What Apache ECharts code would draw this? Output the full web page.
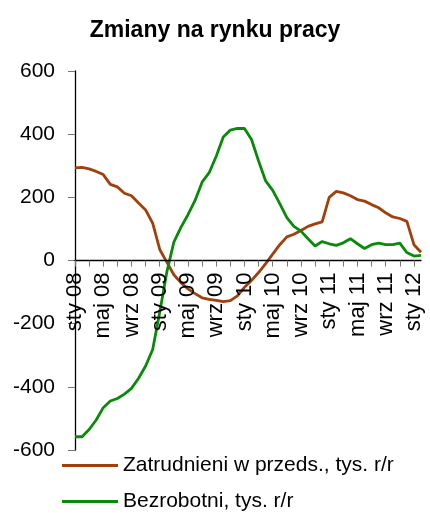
<!DOCTYPE html>
<html>
<head>
<meta charset="utf-8">
<script src="https://cdn.jsdelivr.net/npm/echarts@6/dist/echarts.min.js"></script>
<style>
html,body{margin:0;padding:0;background:#fff;}
#chart{width:430px;height:513px;}
</style>
</head>
<body>
<div id="chart"></div>
<script>
var titleText = 'Zmiany na rynku pracy';
var categories = [
  'sty 08','lut 08','mar 08','kwi 08','maj 08','cze 08','lip 08','sie 08','wrz 08','paź 08','lis 08','gru 08',
  'sty 09','lut 09','mar 09','kwi 09','maj 09','cze 09','lip 09','sie 09','wrz 09','paź 09','lis 09','gru 09',
  'sty 10','lut 10','mar 10','kwi 10','maj 10','cze 10','lip 10','sie 10','wrz 10','paź 10','lis 10','gru 10',
  'sty 11','lut 11','mar 11','kwi 11','maj 11','cze 11','lip 11','sie 11','wrz 11','paź 11','lis 11','gru 11',
  'sty 12','lut 12'
];
var seriesNames = ['Zatrudnieni w przeds., tys. r/r', 'Bezrobotni, tys. r/r'];
var zatrudnieni = [
  293, 295, 290, 282, 272, 241, 233, 213, 205, 182, 160, 118,
  35, -5, -45, -70, -90, -105, -118, -123, -126, -130,
  -127, -112, -85, -63, -38, -10, 20, 50, 75, 83, 95, 108, 116, 122,
  200, 219, 214, 205, 193, 188, 177, 167, 151, 138, 133, 124, 50, 26
];
var bezrobotni = [
  -558, -558, -535, -505, -466, -445, -437, -423, -405, -373, -334, -282,
  -164, -37, 58, 105, 145, 190, 248, 278, 330, 391,
  413, 418, 418, 383, 315, 252, 222, 180, 136, 108, 93, 69, 46, 60,
  53, 48, 56, 69, 53, 38, 50, 55, 50, 50, 55, 25, 14, 16
];
var yTicks = [-600, -400, -200, 0, 200, 400, 600];

var W = 430, H = 513;
var gridTop = 71, gridBottom = 63;
var plotH = H - gridTop - gridBottom;
// move the category axis (line, ticks, labels) up to the y = 0 level
var zeroOffset = -plotH * (0 - yTicks[0]) / (yTicks[yTicks.length - 1] - yTicks[0]);

var chart = echarts.init(document.getElementById('chart'), null, {renderer: 'canvas'});
var FONT = '"Liberation Sans", Arial, sans-serif';
chart.setOption({
  animation: false,
  backgroundColor: '#ffffff',
  title: {
    text: titleText,
    left: 'center',
    top: 14,
    textStyle: {fontFamily: FONT, fontWeight: 'bold', fontSize: 23, color: '#000'}
  },
  legend: {
    orient: 'vertical',
    left: 62,
    top: 455,
    padding: 0,
    itemGap: 15,
    itemWidth: 56,
    itemHeight: 3,
    icon: 'rect',
    textStyle: {fontFamily: FONT, fontSize: 21, color: '#000'},
    data: seriesNames
  },
  grid: {left: 75, right: 9, top: gridTop, bottom: gridBottom, containLabel: false, outerBoundsMode: 'none'},
  xAxis: {
    type: 'category',
    data: categories,
    boundaryGap: false,
    offset: zeroOffset,
    z: 5,
    axisLine: {onZero: false, lineStyle: {color: '#000', width: 1.3}},
    axisTick: {show: true, interval: 1, length: 6, lineStyle: {color: '#777', width: 1}},
    axisLabel: {interval: 3, rotate: 90, margin: 12, fontFamily: FONT, fontSize: 22, color: '#000'},
    splitLine: {show: false}
  },
  yAxis: {
    type: 'value',
    min: yTicks[0],
    max: yTicks[yTicks.length - 1],
    interval: 200,
    axisLine: {show: true, lineStyle: {color: '#000', width: 1.3}},
    axisTick: {show: true, length: 7, lineStyle: {color: '#777', width: 1}},
    axisLabel: {margin: 20, fontFamily: FONT, fontSize: 21, color: '#000'},
    splitLine: {show: false}
  },
  series: [
    {
      name: seriesNames[0], type: 'line', data: zatrudnieni,
      showSymbol: false, symbol: 'none',
      lineStyle: {color: '#A0400C', width: 2.8},
      itemStyle: {color: '#A0400C'}
    },
    {
      name: seriesNames[1], type: 'line', data: bezrobotni,
      showSymbol: false, symbol: 'none',
      lineStyle: {color: '#0A8A0A', width: 2.8},
      itemStyle: {color: '#0A8A0A'}
    }
  ]
});
</script>
</body>
</html>
